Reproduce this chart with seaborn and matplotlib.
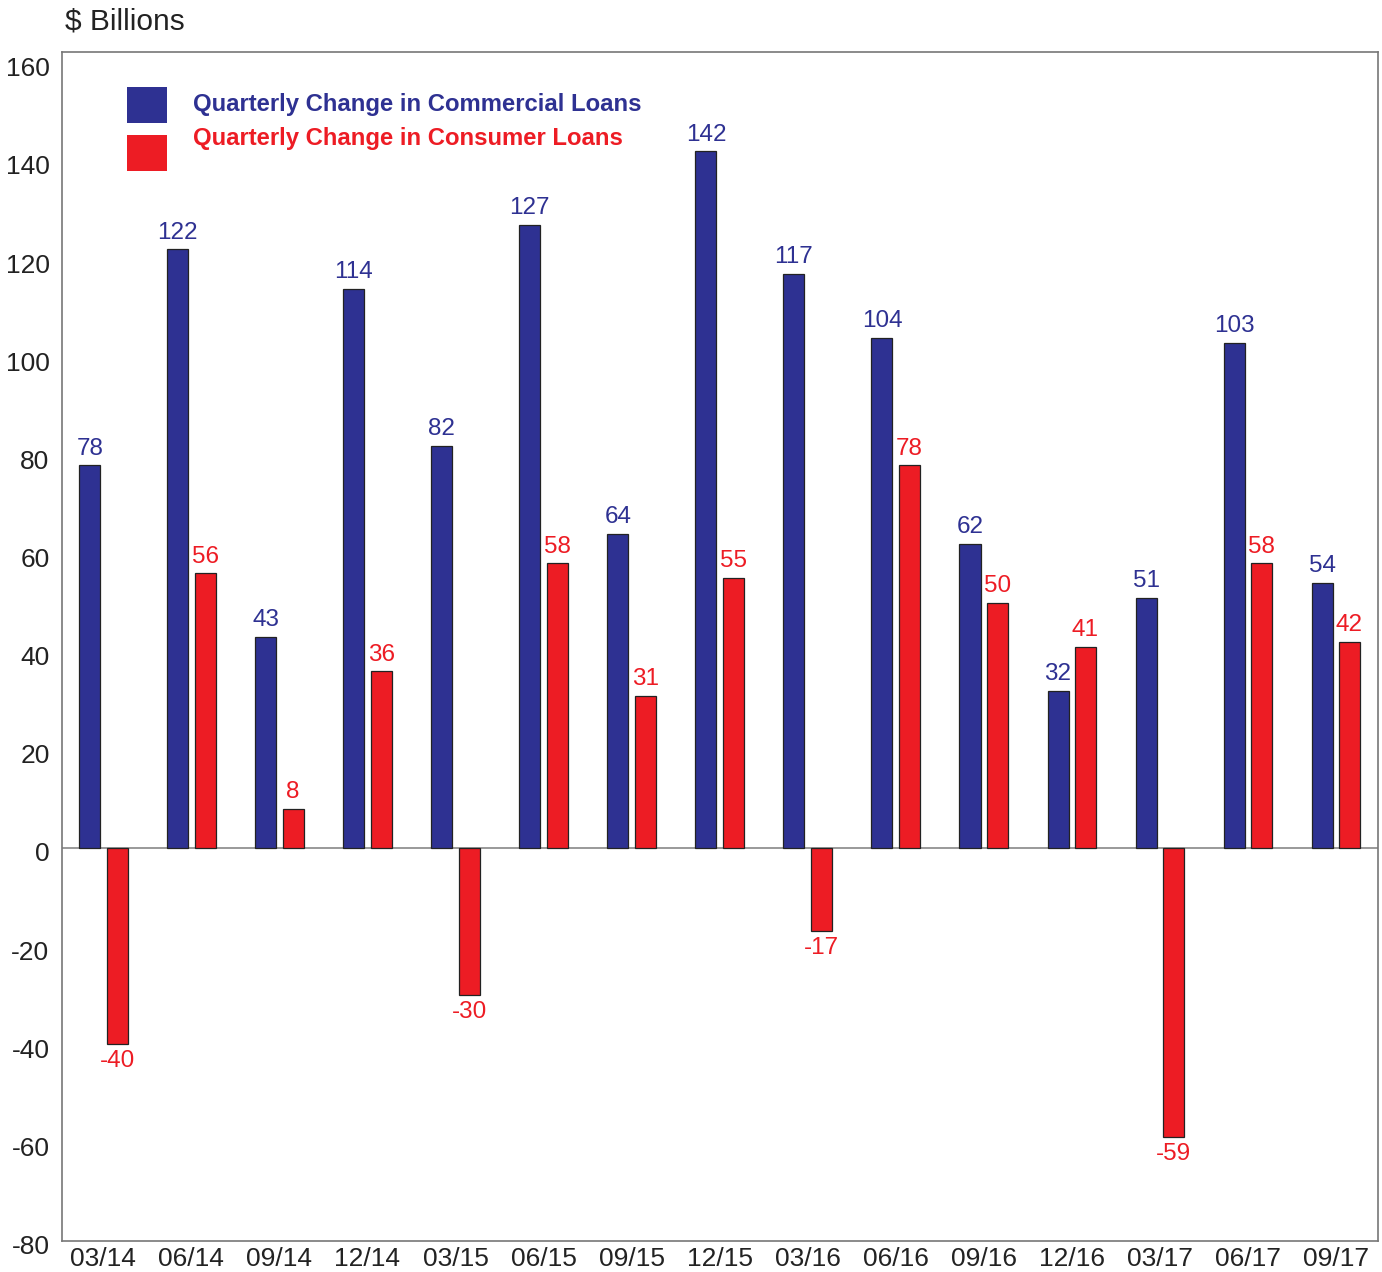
import matplotlib
matplotlib.use("Agg")
import matplotlib.pyplot as plt
import matplotlib.transforms as mtransforms
import seaborn as sns
import pandas as pd
from matplotlib.patches import Rectangle

quarters = ["03/14", "06/14", "09/14", "12/14", "03/15", "06/15", "09/15", "12/15",
            "03/16", "06/16", "09/16", "12/16", "03/17", "06/17", "09/17"]
commercial = [78, 122, 43, 114, 82, 127, 64, 142, 117, 104, 62, 32, 51, 103, 54]
consumer = [-40, 56, 8, 36, -30, 58, 31, 55, -17, 78, 50, 41, -59, 58, 42]
series_names = ["Quarterly Change in Commercial Loans", "Quarterly Change in Consumer Loans"]
colors = ["#2E3192", "#ED1C24"]
y_ticks = [-80, -60, -40, -20, 0, 20, 40, 60, 80, 100, 120, 140, 160]

df = pd.DataFrame({
    "quarter": quarters * 2,
    "value": commercial + consumer,
    "series": [series_names[0]] * len(quarters) + [series_names[1]] * len(quarters),
})

sns.set_style("white")
plt.rcParams["font.family"] = ["Liberation Sans", "DejaVu Sans"]

W, H = 1382, 1272
fig = plt.figure(figsize=(W / 100, H / 100), dpi=100)
ax = fig.add_axes([62 / W, 1 - 1241 / H, (1378 - 62) / W, (1241 - 52) / H])

sns.barplot(data=df, x="quarter", y="value", hue="series", order=quarters,
            hue_order=series_names, palette=colors, width=0.62, gap=0.23,
            edgecolor="#222222", linewidth=0.9, saturation=1, errorbar=None,
            legend=False, ax=ax)

for cont, col in zip(ax.containers, colors):
    ax.bar_label(cont, fmt="%d", padding=4, color=col, fontsize=17.5)

ax.axhline(0, color="#888888", lw=1.2, zorder=0)
ax.set_xlim(-0.47, len(quarters) - 0.52)
ax.set_ylim(-80.1, 162.2)
ax.set_yticks(y_ticks)
ax.set_yticklabels([str(v) for v in y_ticks], fontsize=19, color="#222222")
ax.tick_params(axis="x", labelsize=19, colors="#222222", length=0, pad=4)
ax.tick_params(axis="y", length=0, pad=9)
ax.set_xlabel("")
ax.set_ylabel("")
for sp in ax.spines.values():
    sp.set_color("#777777")
    sp.set_linewidth(1.2)

# value labels on the y axis sit slightly below their gridline level
shift = mtransforms.ScaledTranslation(0, -4 / 100, fig.dpi_scale_trans)
for lbl in ax.get_yticklabels():
    lbl.set_transform(lbl.get_transform() + shift)

fig.text(65 / W, 1 - 21 / H, "\\$ Billions", fontsize=21.5, color="#222222",
         ha="left", va="center")

# legend: colour swatches with coloured bold labels
swatches = [(87, 123, 104), (135, 171, 139)]
for (top, bottom, text_y), name, col in zip(swatches, series_names, colors):
    fig.patches.append(Rectangle((127 / W, 1 - bottom / H), 40 / W, (bottom - top) / H,
                                 transform=fig.transFigure, facecolor=col,
                                 edgecolor="none", zorder=5))
    fig.text(193 / W, 1 - text_y / H, name, fontsize=17.2, fontweight="bold",
             color=col, ha="left", va="center")

fig.savefig("out.png", dpi=100)
